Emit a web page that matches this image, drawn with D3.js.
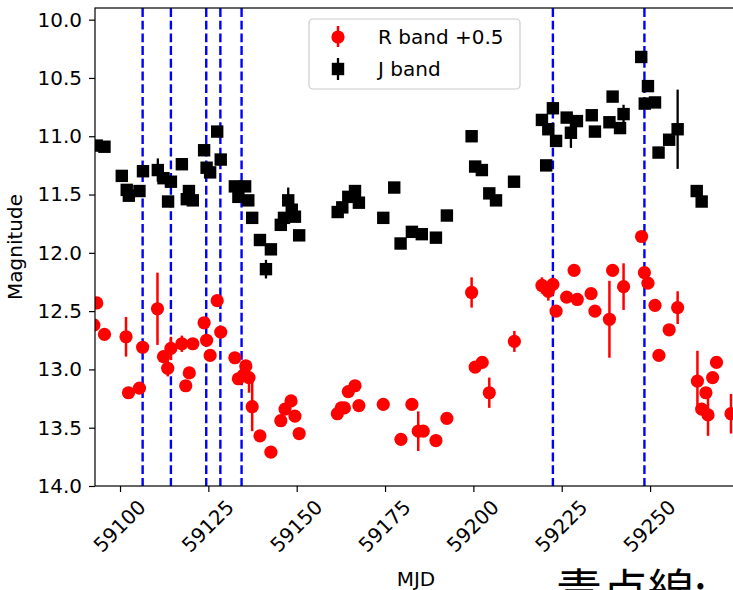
<!DOCTYPE html>
<html>
<head>
<meta charset="utf-8">
<script src="https://cdn.jsdelivr.net/npm/d3@7"></script>
<style>
  html, body { margin: 0; padding: 0; background: #ffffff; overflow: hidden; }
  svg { display: block; }
  text { font-family: "DejaVu Sans", sans-serif; fill: #000; }
</style>
</head>
<body>
<svg id="chart" width="733" height="590"></svg>
<script>
// ---------------- data ----------------
// J band (MJD, magnitude, error)
const jMjd = [59093.4,59095.6,59100.5,59101.9,59102.5,59105.5,59106.5,59110.7,59112.3,59113.6,
  59114.4,59117.5,59118.9,59119.5,59120.6,59123.8,59124.5,59125.5,59127.5,59128.5,
  59132.5,59133.5,59135.4,59136.3,59137.4,59139.6,59141.3,59142.7,59145.5,59146.4,
  59147.6,59148.6,59149.5,59150.7,59161.6,59162.9,59164.6,59166.5,59167.6,59174.5,
  59177.6,59179.4,59182.6,59185.4,59189.4,59192.5,59199.5,59200.5,59202.4,59204.5,
  59206.4,59211.5,59219.4,59220.6,59221.2,59222.5,59223.4,59226.4,59227.6,59229.3,
  59233.5,59234.4,59238.5,59239.4,59241.5,59242.5,59247.5,59248.5,59249.4,59251.4,
  59252.4,59255.4,59257.8,59263.2,59264.6];
const jMag = [11.08,11.09,11.34,11.46,11.51,11.47,11.30,11.29,11.36,11.56,
  11.39,11.24,11.54,11.47,11.55,11.12,11.27,11.31,10.96,11.20,
  11.43,11.52,11.43,11.55,11.70,11.89,12.14,11.97,11.76,11.70,
  11.55,11.63,11.69,11.85,11.65,11.61,11.52,11.47,11.57,11.70,
  11.44,11.92,11.82,11.84,11.87,11.68,11.00,11.26,11.29,11.49,
  11.55,11.39,10.86,11.25,10.94,10.76,11.04,10.84,10.97,10.87,
  10.82,10.96,10.88,10.66,10.93,10.81,10.32,10.72,10.57,10.71,
  11.14,11.03,10.94,11.47,11.56];
const jErr = [0.03,0.03,0.03,0.03,0.03,0.03,0.03,0.10,0.03,0.03,
  0.03,0.03,0.03,0.03,0.03,0.03,0.03,0.03,0.03,0.03,
  0.03,0.03,0.03,0.03,0.03,0.03,0.08,0.03,0.03,0.03,
  0.11,0.03,0.03,0.03,0.03,0.03,0.03,0.03,0.03,0.03,
  0.03,0.03,0.03,0.03,0.03,0.03,0.03,0.03,0.03,0.03,
  0.03,0.03,0.03,0.03,0.03,0.03,0.03,0.03,0.13,0.03,
  0.03,0.03,0.03,0.03,0.03,0.08,0.03,0.03,0.03,0.03,
  0.03,0.03,0.34,0.03,0.03];

// R band, shifted by +0.5 mag as plotted (MJD, magnitude, error)
const rMjd = [59092.6,59093.4,59095.6,59101.7,59102.4,59105.5,59106.4,59110.6,59112.3,59113.5,
  59114.4,59117.5,59118.6,59119.6,59120.6,59123.8,59124.5,59125.5,59127.5,59128.5,
  59132.5,59133.5,59134.9,59135.6,59136.5,59137.4,59139.6,59142.7,59145.5,59146.7,
  59148.4,59149.5,59150.7,59161.5,59162.6,59163.5,59164.6,59166.5,59167.6,59174.5,
  59179.5,59182.6,59184.4,59185.8,59189.4,59192.5,59199.5,59200.5,59202.5,59204.5,
  59211.6,59219.4,59221.2,59222.5,59223.4,59226.4,59228.5,59229.4,59233.3,59234.4,
  59238.5,59239.4,59242.5,59247.6,59248.4,59249.4,59251.4,59252.5,59255.4,59257.8,
  59263.4,59264.6,59265.8,59266.4,59267.7,59268.8,59272.9];
const rMagShifted = [12.62,12.43,12.70,12.72,13.20,13.16,12.81,12.48,12.89,12.99,
  12.82,12.78,13.14,13.03,12.78,12.60,12.75,12.88,12.41,12.68,
  12.90,13.08,13.05,12.97,13.07,13.32,13.57,13.71,13.44,13.34,
  13.27,13.40,13.55,13.38,13.33,13.33,13.19,13.14,13.31,13.30,
  13.60,13.30,13.53,13.53,13.61,13.42,12.34,12.98,12.94,13.20,
  12.76,12.28,12.33,12.27,12.50,12.38,12.15,12.40,12.35,12.50,
  12.57,12.15,12.29,11.86,12.17,12.26,12.45,12.88,12.66,12.47,
  13.10,13.34,13.20,13.39,13.07,12.94,13.38];
const rErr = [0.03,0.03,0.03,0.17,0.03,0.03,0.03,0.31,0.05,0.07,
  0.10,0.07,0.03,0.03,0.03,0.03,0.03,0.03,0.03,0.03,
  0.03,0.03,0.03,0.03,0.13,0.21,0.03,0.03,0.03,0.03,
  0.03,0.03,0.03,0.03,0.03,0.03,0.03,0.03,0.03,0.03,
  0.03,0.03,0.17,0.03,0.03,0.03,0.13,0.03,0.03,0.13,
  0.09,0.07,0.08,0.03,0.03,0.03,0.03,0.03,0.03,0.03,
  0.33,0.05,0.20,0.03,0.03,0.03,0.03,0.03,0.03,0.14,
  0.26,0.03,0.03,0.18,0.03,0.03,0.17];

// vertical dashed marker epochs (MJD)
const eventMjd = [59106.4, 59114.4, 59124.4, 59128.4, 59134.4, 59222.5, 59248.4];

const xTicks = [59100, 59125, 59150, 59175, 59200, 59225, 59250];
const yTicks = [10.0, 10.5, 11.0, 11.5, 12.0, 12.5, 13.0, 13.5, 14.0];
const legendLabels = ["R band +0.5", "J band"];
const xLabel = "MJD";
const yLabel = "Magnitude";
const noteText = "青点線:";

// ---------------- layout ----------------
const svg = d3.select("#chart");
const L = 95, R = 737, T = 8, B = 486;

const x = d3.scaleLinear().domain([59092.92, 59274.6]).range([L, R]);
const y = d3.scaleLinear().domain([9.9, 14.0]).range([T, B]);

svg.append("defs").append("clipPath").attr("id", "plotclip")
  .append("rect").attr("x", L).attr("y", T).attr("width", R - L).attr("height", B - T);

const plot = svg.append("g").attr("clip-path", "url(#plotclip)");

// dashed blue lines
plot.selectAll("line.ev").data(eventMjd).enter().append("line")
  .attr("x1", d => x(d)).attr("x2", d => x(d))
  .attr("y1", T).attr("y2", B)
  .attr("stroke", "#0000ff").attr("stroke-width", 2.4)
  .attr("stroke-dasharray", "8.9,3.8");

// R band
const rData = rMjd.map((m, i) => ({ m, v: rMagShifted[i], e: rErr[i] }));
plot.selectAll("line.rerr").data(rData).enter().append("line")
  .attr("x1", d => x(d.m)).attr("x2", d => x(d.m))
  .attr("y1", d => y(d.v - d.e)).attr("y2", d => y(d.v + d.e))
  .attr("stroke", "#ff0000").attr("stroke-width", 2.5);
plot.selectAll("circle.r").data(rData).enter().append("circle")
  .attr("cx", d => x(d.m)).attr("cy", d => y(d.v)).attr("r", 6.6)
  .attr("fill", "#ff0000");

// J band
const jData = jMjd.map((m, i) => ({ m, v: jMag[i], e: jErr[i] }));
plot.selectAll("line.jerr").data(jData).enter().append("line")
  .attr("x1", d => x(d.m)).attr("x2", d => x(d.m))
  .attr("y1", d => y(d.v - d.e)).attr("y2", d => y(d.v + d.e))
  .attr("stroke", "#000000").attr("stroke-width", 2.3);
const sq = 12.4;
plot.selectAll("rect.j").data(jData).enter().append("rect")
  .attr("x", d => x(d.m) - sq / 2).attr("y", d => y(d.v) - sq / 2)
  .attr("width", sq).attr("height", sq).attr("fill", "#000000");

// ---------------- axes ----------------
const yAxis = d3.axisLeft(y).tickValues(yTicks).tickFormat(d3.format(".1f")).tickSize(6).tickPadding(7);
const gy = svg.append("g").attr("transform", `translate(${L},0)`).call(yAxis);
gy.select(".domain").remove();
gy.selectAll(".tick line").attr("stroke", "#000").attr("stroke-width", 1.2);
gy.selectAll(".tick text").style("font-size", "20px").style("font-family", "DejaVu Sans");

const xAxis = d3.axisBottom(x).tickValues(xTicks).tickFormat(d3.format("d")).tickSize(6);
const gx = svg.append("g").attr("transform", `translate(0,${B})`).call(xAxis);
gx.select(".domain").remove();
gx.selectAll(".tick line").attr("stroke", "#000").attr("stroke-width", 1.2);
gx.selectAll(".tick text")
  .style("font-size", "20px").style("font-family", "DejaVu Sans")
  .attr("text-anchor", "middle").attr("dominant-baseline", "central")
  .attr("y", 0).attr("dy", null)
  .attr("transform", "translate(-1,40) rotate(-45)");

// spines
svg.append("rect").attr("x", L).attr("y", T).attr("width", R - L).attr("height", B - T)
  .attr("fill", "none").attr("stroke", "#000").attr("stroke-width", 1.2);

// axis labels
svg.append("text").attr("x", 416).attr("y", 586).attr("text-anchor", "middle")
  .style("font-size", "20px").text(xLabel);
svg.append("text").attr("transform", `translate(22,${(T + B) / 2}) rotate(-90)`)
  .attr("text-anchor", "middle").style("font-size", "20px").text(yLabel);

// ---------------- legend ----------------
const lg = svg.append("g");
lg.append("rect").attr("x", 309).attr("y", 19).attr("width", 211).attr("height", 70)
  .attr("rx", 4).attr("fill", "#ffffff").attr("fill-opacity", 0.8)
  .attr("stroke", "#cccccc").attr("stroke-width", 1.2);
lg.append("line").attr("x1", 338).attr("x2", 338).attr("y1", 26).attr("y2", 47)
  .attr("stroke", "#ff0000").attr("stroke-width", 2.5);
lg.append("circle").attr("cx", 338).attr("cy", 37).attr("r", 6.6).attr("fill", "#ff0000");
lg.append("line").attr("x1", 338).attr("x2", 338).attr("y1", 58).attr("y2", 80)
  .attr("stroke", "#000").attr("stroke-width", 2.3);
lg.append("rect").attr("x", 338 - sq / 2).attr("y", 69 - sq / 2).attr("width", sq).attr("height", sq)
  .attr("fill", "#000");
lg.selectAll("text.lab").data(legendLabels).enter().append("text")
  .attr("x", 378).attr("y", (d, i) => 44 + i * 32)
  .style("font-size", "20px").text(d => d);

// ---------------- bottom note (cut off by the frame) ----------------
svg.append("text").attr("x", 556).attr("y", 607)
  .style("font-family", "'Noto Sans CJK JP', 'Noto Sans CJK SC', sans-serif")
  .style("font-size", "46px").text(noteText);
</script>
</body>
</html>
